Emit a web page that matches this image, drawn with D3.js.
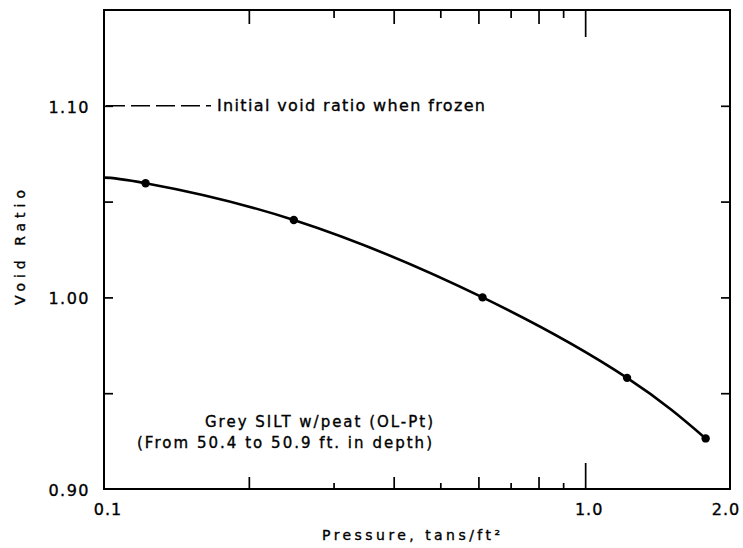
<!DOCTYPE html>
<html>
<head>
<meta charset="utf-8">
<script src="https://cdn.jsdelivr.net/npm/d3@7"></script>
<style>
  html, body { margin: 0; padding: 0; background: #fff; }
  svg { display: block; }
  text { font-family: "DejaVu Sans", sans-serif; fill: #000; stroke: #000; stroke-width: 0.35px; }
</style>
</head>
<body>
<svg id="chart" width="743" height="548"></svg>
<script>
// ---- data ----
const pressure = [0.122, 0.248, 0.612, 1.222, 1.78];      // tons/ft^2
const voidRatio = [1.0596, 1.0404, 1.000, 0.958, 0.9264];
const curveStart = [0.1, 1.0625];                          // where the fitted curve meets the y axis
const initialVoidRatio = 1.10;
const xDomain = [0.1, 2.0];
const yDomain = [0.90, 1.15];
const xLabelTicks = [0.1, 1.0, 2.0];
const xLabelText = ["0.1", "1.0", "2.0"];
const xMinorEven = [0.2, 0.4, 0.6, 0.8];
const xMinorOdd = [0.3, 0.5, 0.7, 0.9];
const xMajor = [1.0];
const yLabelTicks = [0.90, 1.00, 1.10];
const yLabelText = ["0.90", "1.00", "1.10"];
const yMinorTicks = [0.95, 1.00, 1.05, 1.10];
const annotation = ["Grey  SILT w/peat (OL-Pt)", "(From 50.4 to 50.9 ft. in depth)"];
const initialLabel = "Initial void ratio when frozen";
const xTitle = "Pressure, tans/ft\u00B2";
const yTitle = "Void  Ratio";

// ---- layout ----
const L = 104, R = 730, T = 10, B = 489;
const svg = d3.select("#chart");
const x = d3.scaleLog().domain(xDomain).range([L, R]);
const y = d3.scaleLinear().domain(yDomain).range([B, T]);

// frame
svg.append("rect").attr("x", L).attr("y", T).attr("width", R - L).attr("height", B - T)
  .attr("fill", "none").attr("stroke", "#000").attr("stroke-width", 2);

function stripAxis(g) {
  g.select(".domain").remove();
  g.selectAll(".tick line").attr("stroke", "#000").attr("stroke-width", 1.7);
}

// bottom inward ticks
[[xMinorEven, 12], [xMinorOdd, 6], [xMajor, 26]].forEach(([vals, len]) => {
  svg.append("g").attr("transform", `translate(0,${B})`)
    .call(d3.axisTop(x).tickValues(vals).tickSize(len).tickFormat(""))
    .call(stripAxis);
});
// top inward ticks
[[xMinorEven, 14], [xMinorOdd, 8], [xMajor, 27]].forEach(([vals, len]) => {
  svg.append("g").attr("transform", `translate(0,${T})`)
    .call(d3.axisBottom(x).tickValues(vals).tickSize(len).tickFormat(""))
    .call(stripAxis);
});
// left / right inward ticks
svg.append("g").attr("transform", `translate(${L},0)`)
  .call(d3.axisRight(y).tickValues(yMinorTicks).tickSize(9).tickFormat(""))
  .call(stripAxis);
svg.append("g").attr("transform", `translate(${R},0)`)
  .call(d3.axisLeft(y).tickValues(yMinorTicks).tickSize(9).tickFormat(""))
  .call(stripAxis);

// x tick labels
const xdx = [4, 4, -4];
svg.append("g").selectAll("text").data(xLabelTicks).join("text")
  .attr("x", (d, i) => x(d) + xdx[i]).attr("y", B + 26)
  .attr("text-anchor", "middle").attr("font-size", 16)
  .attr("letter-spacing", 1)
  .text((d, i) => xLabelText[i]);

// y tick labels
svg.append("g").selectAll("text").data(yLabelTicks).join("text")
  .attr("x", L - 14).attr("y", d => y(d) + 7)
  .attr("text-anchor", "end").attr("font-size", 16)
  .attr("letter-spacing", 1.5)
  .text((d, i) => yLabelText[i]);

// axis titles
svg.append("text").attr("x", 322).attr("y", 540)
  .attr("font-size", 14).attr("textLength", 178).attr("lengthAdjust", "spacing")
  .text(xTitle);
svg.append("text").attr("transform", "translate(25,305) rotate(-90)")
  .attr("font-size", 14).attr("textLength", 115).attr("lengthAdjust", "spacing")
  .text(yTitle);

// initial void ratio dashed line + label
svg.append("line").attr("x1", L + 2).attr("x2", 211)
  .attr("y1", y(initialVoidRatio)).attr("y2", y(initialVoidRatio))
  .attr("stroke", "#000").attr("stroke-width", 1.5).attr("stroke-dasharray", "19,6");
svg.append("text").attr("x", 217).attr("y", y(initialVoidRatio) + 5)
  .attr("font-size", 16).attr("textLength", 268).attr("lengthAdjust", "spacing")
  .text(initialLabel);

// fitted curve
const curvePts = [curveStart].concat(pressure.map((p, i) => [p, voidRatio[i]]));
const line = d3.line().x(d => x(d[0])).y(d => y(d[1])).curve(d3.curveNatural);
svg.append("path").datum(curvePts).attr("d", line)
  .attr("fill", "none").attr("stroke", "#000").attr("stroke-width", 2.6);

// data points
svg.append("g").selectAll("circle").data(pressure).join("circle")
  .attr("cx", d => x(d)).attr("cy", (d, i) => y(voidRatio[i])).attr("r", 4.2)
  .attr("fill", "#000");

// annotation
svg.append("text").attr("x", 205).attr("y", 427)
  .attr("font-size", 15).attr("textLength", 228).attr("lengthAdjust", "spacing")
  .text(annotation[0]);
svg.append("text").attr("x", 137).attr("y", 448)
  .attr("font-size", 15).attr("textLength", 295).attr("lengthAdjust", "spacing")
  .text(annotation[1]);
</script>
</body>
</html>
